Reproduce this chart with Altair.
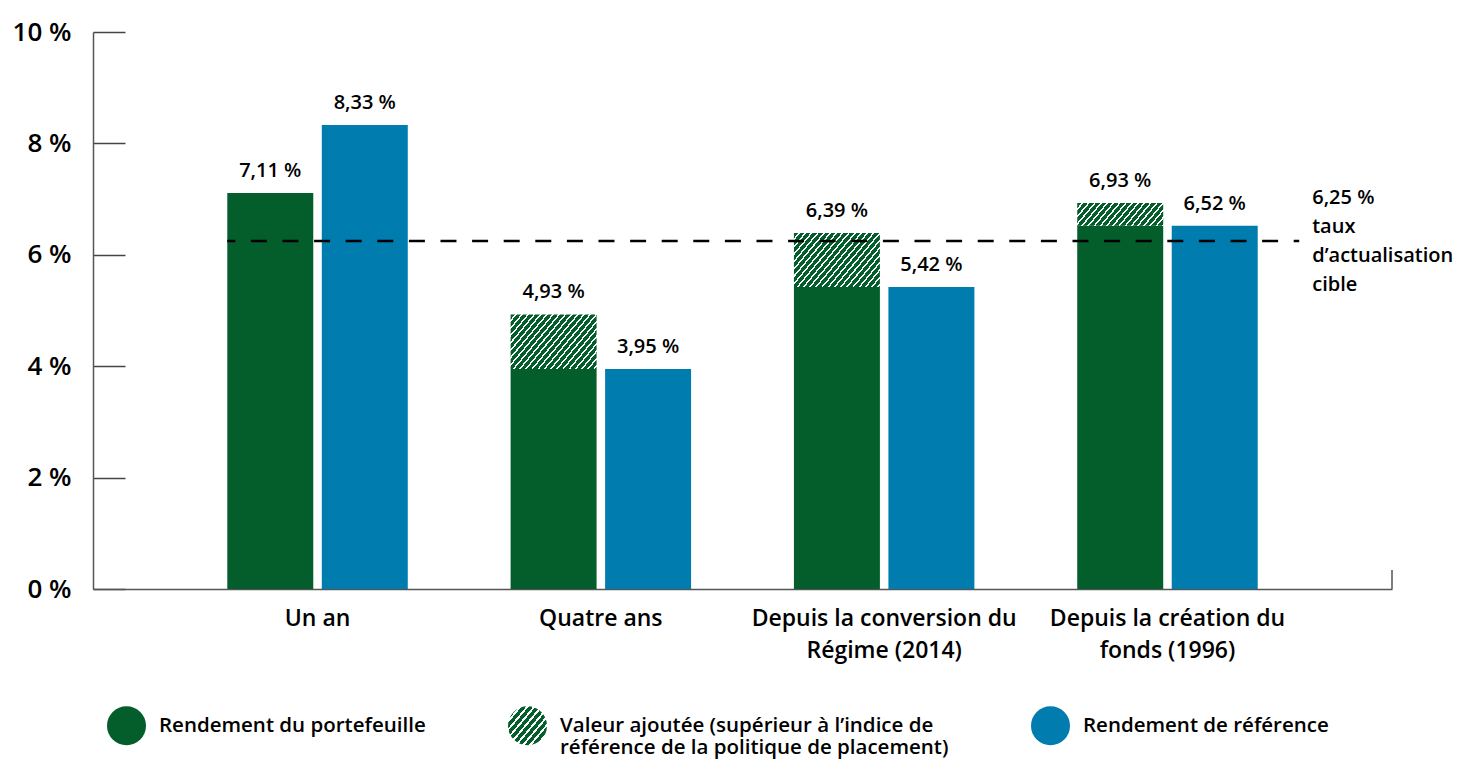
import math
import json
import altair as alt
import pandas as pd

# ---------------- data ----------------
categories = [
    "Un an",
    "Quatre ans",
    "Depuis la conversion du\nRégime (2014)",
    "Depuis la création du\nfonds (1996)",
]
portfolio = [7.11, 4.93, 6.39, 6.93]
benchmark = [8.33, 3.95, 5.42, 6.52]
target = 6.25
target_text = ["taux", "d’actualisation", "cible"]
y_ticks = [0, 2, 4, 6, 8, 10]
series_names = ["Portefeuille", "Référence"]
legend_names = [
    "Rendement du portefeuille",
    "Valeur ajoutée (supérieur à l’indice de\nréférence de la politique de placement)",
    "Rendement de référence",
]

# ---------------- style ----------------
GREEN = "#045e2b"
BLUE = "#007cae"
WHITE = "#ffffff"
FONT = "Open Sans"
W, H = 1299, 557
PAD_INNER, PAD_OUTER, OFF_INNER = 0.363, 0.474, 0.09
Y_MAX = 10
RULE_EXT = 41.5


def fr(v):
    return f"{v:.2f}".replace(".", ",") + " %"


def hatch_gradient(w, h, period, white_frac, angle=50):
    k = h / (w * math.tan(math.radians(angle)))
    a = (1 + k) / (1 + k * k)
    b = k * a
    n = w * (1 + k) / period
    stops = []
    i = 0
    while i < n:
        s = i / n
        m = min((i + 1 - white_frac) / n, 1)
        e = min((i + 1) / n, 1)
        stops += [(s, GREEN), (m, GREEN), (m, WHITE), (e, WHITE)]
        i += 1
    return {
        "gradient": "linear",
        "x1": 0, "y1": 0, "x2": round(a, 4), "y2": round(b, 4),
        "stops": [{"offset": round(o, 4), "color": c} for o, c in stops],
    }


# geometry of the bands (for hatch aspect only)
step = W / (len(categories) - PAD_INNER + 2 * PAD_OUTER)
bandw = step * (1 - PAD_INNER)
bar_w = bandw / (2 - OFF_INNER) * (1 - OFF_INNER)
px_per = H / Y_MAX

# ---------------- tables ----------------
rows = []
for c, p, b in zip(categories, portfolio, benchmark):
    rows.append(dict(cat=c, series=series_names[0], top=min(p, b), val=p,
                     legend=legend_names[0], label=fr(p)))
    rows.append(dict(cat=c, series=series_names[1], top=b, val=b,
                     legend=legend_names[2], label=fr(b)))
df = pd.DataFrame(rows)

tdf = pd.DataFrame({"start": [categories[0]], "end": [categories[-1]], "value": [target]})

xs = alt.Scale(domain=categories, paddingInner=PAD_INNER, paddingOuter=PAD_OUTER)
xo = alt.Scale(domain=series_names, paddingInner=OFF_INNER)
ys = alt.Scale(domain=[0, Y_MAX], nice=False)

x_axis = alt.Axis(title=None, labelExpr="split(datum.label, '\\n')", labelFontSize=23,
                  labelFontWeight=600, labelColor="#000", labelPadding=18,
                  labelBaseline="top", labelLineHeight=32, labelLimit=400, labelAngle=0,
                  ticks=False, tickSize=0, domainColor="#555", domainWidth=1.5, grid=False)
y_axis = alt.Axis(title=None, values=y_ticks, labelExpr="datum.value + ' %'",
                  labelFontSize=26, labelFontWeight=600, labelColor="#000", labelPadding=22,
                  ticks=False, tickSize=0, domainColor="#555", domainWidth=1.5,
                  grid=True, gridDash=[32, 4000], gridColor="#444", gridWidth=1.3)

legend_grad = hatch_gradient(39, 39, 7, 0.35)
legend_expr = json.dumps(legend_grad, ensure_ascii=False)

bars = alt.Chart(df).mark_bar().encode(
    x=alt.X("cat:N", scale=xs, axis=x_axis),
    xOffset=alt.XOffset("series:N", scale=xo),
    y=alt.Y("top:Q", scale=ys, axis=y_axis),
    color=alt.Color(
        "legend:N",
        scale=alt.Scale(domain=legend_names, range=[GREEN, {"expr": legend_expr}, BLUE]),
        legend=alt.Legend(
            title=None, orient="none", legendX=14, legendY=674, direction="horizontal",
            columns=3, symbolType="circle", symbolSize=1521, symbolStrokeWidth=0,
            labelFontSize=20.5, labelFontWeight=600, labelColor="#000", labelOffset=13,
            labelLimit=600, columnPadding=82, padding=0,
            labelExpr="indexof(datum.label, '\\n') >= 0 ? split(datum.label, '\\n') : [datum.label, ' ']",
        ),
    ),
)

layers = [bars]
for c, p, b in zip(categories, portfolio, benchmark):
    if p > b:
        g = hatch_gradient(bar_w, (p - b) * px_per, 6.2, 0.3)
        hdf = pd.DataFrame({"cat": [c], "series": [series_names[0]], "lo": [b], "hi": [p]})
        layers.append(
            alt.Chart(hdf).mark_bar(color=g).encode(
                x=alt.X("cat:N", scale=xs, axis=x_axis),
                xOffset=alt.XOffset("series:N", scale=xo),
                y=alt.Y("lo:Q", scale=ys, axis=y_axis),
                y2="hi:Q",
            )
        )

rule = alt.Chart(tdf).mark_rule(strokeDash=[16, 15.6], strokeDashOffset=8,
                                strokeWidth=2.5, color="#000", x2Offset=RULE_EXT).encode(
    x=alt.X("start:N", bandPosition=0, scale=xs, axis=x_axis),
    x2=alt.X2("end:N", bandPosition=1),
    y=alt.Y("value:Q", scale=ys, axis=y_axis),
)

labels = alt.Chart(df).mark_text(dy=-22, fontSize=20, fontWeight=600, color="#000",
                                 baseline="middle", font=FONT).encode(
    x=alt.X("cat:N", scale=xs, axis=x_axis),
    xOffset=alt.XOffset("series:N", scale=xo),
    y=alt.Y("val:Q", scale=ys, axis=y_axis),
    text="label:N",
)

annot = alt.Chart(tdf).mark_text(align="left", baseline="middle", dx=RULE_EXT + 13, dy=-43,
                                 fontSize=20, fontWeight=600, lineHeight=29, color="#000",
                                 font=FONT, text=[fr(target)] + target_text).encode(
    x=alt.X("end:N", bandPosition=1, scale=xs, axis=x_axis),
    y=alt.Y("value:Q", scale=ys, axis=y_axis),
)

end_tick = alt.Chart(pd.DataFrame({"z": [0]})).mark_rule(color="#555", strokeWidth=1.5).encode(
    x=alt.value("width"),
    y=alt.value({"expr": "height - 19"}),
    y2=alt.value("height"),
)

layers += [rule, labels, annot, end_tick]

chart = alt.layer(*layers).properties(
    width=W,
    height=H,
    padding={"left": 85, "top": 24, "right": 61, "bottom": 170},
    autosize=alt.AutoSizeParams(type="none"),
    background="white",
).configure(
    font=FONT,
).configure_view(stroke=None)

chart.save("out.html", embed_options={"renderer": "svg", "actions": False})
